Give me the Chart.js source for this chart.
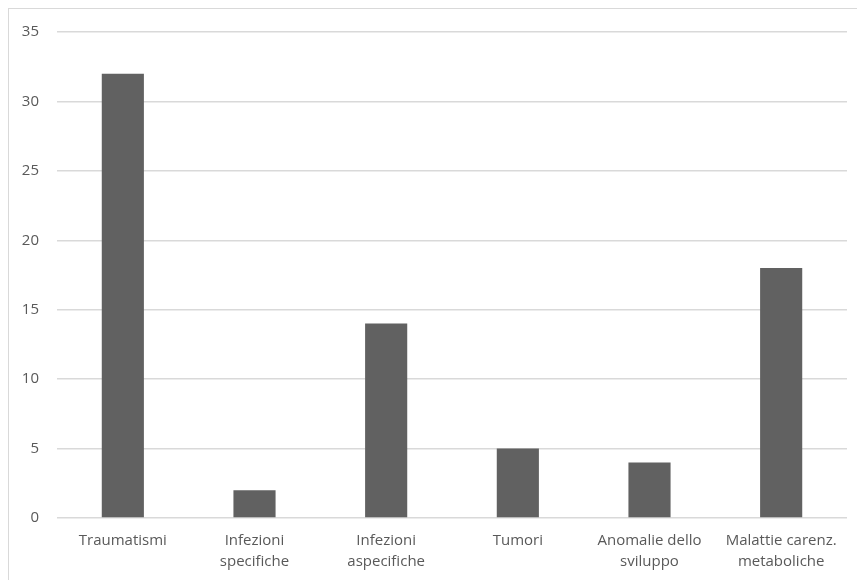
<!DOCTYPE html>
<html>
<head>
<meta charset="utf-8">
<script src="https://cdn.jsdelivr.net/npm/chart.js@4/dist/chart.umd.min.js"></script>
<style>
  html, body { margin: 0; padding: 0; background: #fff; overflow: hidden; }
  #frame {
    position: absolute; left: 8px; top: 8px;
    width: 860px; height: 580px;
    border-left: 1.5px solid #d9d9d9; border-top: 1.5px solid #d9d9d9;
  }
  #wrap { position: absolute; left: 10px; top: 10px; width: 847px; height: 570px; }
</style>
</head>
<body>
<div id="frame"></div>
<div id="wrap"><canvas id="c"></canvas></div>
<script>
const categories = [
  'Traumatismi',
  ['Infezioni', 'specifiche'],
  ['Infezioni', 'aspecifiche'],
  'Tumori',
  ['Anomalie dello', 'sviluppo'],
  ['Malattie carenz.', 'metaboliche']
];
const counts = [32, 2, 14, 5, 4, 18];
const yTicks = [0, 5, 10, 15, 20, 25, 30, 35];

const X_FONT = { family: '"Open Sans", sans-serif', size: 15, lineHeight: 1.4 };
const Y_FONT = { family: '"Open Sans", sans-serif', size: 15, lineHeight: 1.0 };

new Chart(document.getElementById('c'), {
  type: 'bar',
  data: {
    labels: categories,
    datasets: [{
      data: counts,
      backgroundColor: '#616161',
      borderWidth: 0,
      categoryPercentage: 1,
      barPercentage: 0.32
    }]
  },
  options: {
    responsive: true,
    maintainAspectRatio: false,
    animation: false,
    layout: { padding: { top: 22, right: 10, left: 0, bottom: 0 } },
    plugins: { legend: { display: false }, tooltip: { enabled: false } },
    scales: {
      x: {
        grid: { display: false, drawTicks: false },
        border: { display: false },
        ticks: { color: '#595959', font: X_FONT, padding: 12, maxRotation: 0, autoSkip: false },
        afterFit: s => { s.height = 62; s.paddingLeft = 0; s.paddingRight = 0; }
      },
      y: {
        min: 0, max: 35,
        afterBuildTicks: s => { s.ticks = yTicks.map(v => ({ value: v })); },
        grid: { color: '#d9d9d9', lineWidth: 1.5, drawTicks: false },
        border: { display: false },
        ticks: { color: '#595959', font: Y_FONT, padding: 18 },
        afterFit: s => { s.width = 47; s.paddingTop = 0; s.paddingBottom = 0; }
      }
    }
  }
});
</script>
</body>
</html>
